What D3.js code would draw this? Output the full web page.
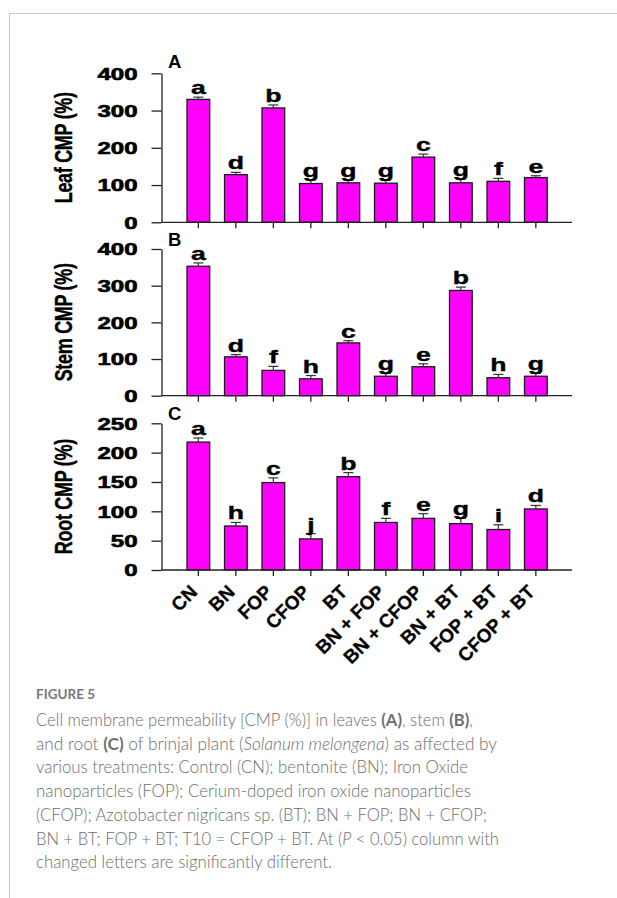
<!DOCTYPE html>
<html><head><meta charset="utf-8">
<script src="https://cdn.jsdelivr.net/npm/d3@7"></script>
<style>
html,body{margin:0;padding:0;background:#fff;}
svg{display:block;}
</style></head>
<body>
<svg id="chart" width="617" height="898"></svg>
<script>
const categories = ["CN","BN","FOP","CFOP","BT","BN + FOP","BN + CFOP","BN + BT","FOP + BT","CFOP + BT"];
const leafValues = [330,128,307,104,106,105,175,106,110,120];
const leafErrors = [6,6,8,10,7,8,8,10,8,5];
const leafLetters = ["a","d","b","g","g","g","c","g","f","e"];
const stemValues = [353,106,69,46,144,53,79,287,49,53];
const stemErrors = [9,6,11,9,6,8,8,9,9,8];
const stemLetters = ["a","d","f","h","c","g","e","b","h","g"];
const rootValues = [218,75,149,53,159,81,88,79,69,104];
const rootErrors = [7,6,8,9,7,7,8,9,8,6];
const rootLetters = ["a","h","c","j","b","f","e","g","i","d"];
const leafTicks = [0,100,200,300,400];
const stemTicks = [0,100,200,300,400];
const rootTicks = [0,50,100,150,200,250];
const panelLabels = ["A","B","C"];
const axisTitles = ["Leaf CMP (%)","Stem CMP (%)","Root CMP (%)"];
const figureLabel = "FIGURE 5";
const captionLines = [
  [["Cell membrane permeability [CMP (%)] in leaves ",""],["(A)","b"],[", stem ",""],["(B)","b"],[",",""]],
  [["and root ",""],["(C)","b"],[" of brinjal plant (",""],["Solanum melongena","i"],[") as affected by",""]],
  [["various treatments: Control (CN); bentonite (BN); Iron Oxide",""]],
  [["nanoparticles (FOP); Cerium-doped iron oxide nanoparticles",""]],
  [["(CFOP); Azotobacter nigricans sp. (BT); BN + FOP; BN + CFOP;",""]],
  [["BN + BT; FOP + BT; T10 = CFOP + BT. At (",""],["P","i"],[" < 0.05) column with",""]],
  [["changed letters are significantly different.",""]]
];
const captionWidths = [437,461,432,435,451,463,296];

const svg = d3.select("#chart");
const FONT = "Liberation Sans, Arial, sans-serif";
// frame
svg.append("line").attr("x1",9.5).attr("x2",617).attr("y1",13.5).attr("y2",13.5).attr("stroke","#c4c4c4").attr("stroke-width",1);
svg.append("line").attr("x1",9.5).attr("x2",9.5).attr("y1",13.5).attr("y2",898).attr("stroke","#c4c4c4").attr("stroke-width",1);

const x = d3.scaleBand().domain(categories).range([179.6,554.6]).paddingInner(0.395).paddingOuter(0.1975);
const axisColor = "#222";
const panels = [
  {values:leafValues, errors:leafErrors, letters:leafLetters, ticks:leafTicks, y0:222.3, y1:73.3},
  {values:stemValues, errors:stemErrors, letters:stemLetters, ticks:stemTicks, y0:395.7, y1:249},
  {values:rootValues, errors:rootErrors, letters:rootLetters, ticks:rootTicks, y0:570, y1:423.3}
];
const axisX = 161.5;
panels.forEach((p,pi)=>{
  const y = d3.scaleLinear().domain([0,d3.max(p.ticks)]).range([p.y0,p.y1]);
  const g = svg.append("g");
  g.selectAll("rect.bar").data(p.values).join("rect")
    .attr("x",(d,i)=>x(categories[i]))
    .attr("y",d=>y(d))
    .attr("width",x.bandwidth())
    .attr("height",d=>y(0)-y(d))
    .attr("fill","#ff00ff").attr("stroke","#1a1a1a").attr("stroke-width",1.3);
  p.values.forEach((v,i)=>{
    const cx = x(categories[i])+x.bandwidth()/2;
    g.append("line").attr("x1",cx).attr("x2",cx).attr("y1",y(v)).attr("y2",y(v+p.errors[i])).attr("stroke","#333").attr("stroke-width",1.2);
    g.append("line").attr("x1",cx-5).attr("x2",cx+5).attr("y1",y(v+p.errors[i])).attr("y2",y(v+p.errors[i])).attr("stroke","#333").attr("stroke-width",1.2);
    g.append("text").attr("transform",`translate(${cx},${y(v+p.errors[i])-3}) scale(1.4,1)`)
      .attr("text-anchor","middle").attr("font-family",FONT)
      .attr("font-weight","bold").attr("font-size",19).attr("fill","#000")
      .attr("stroke","#000").attr("stroke-width",0.4).text(p.letters[i]);
  });
  const ya = g.append("g").attr("transform",`translate(${axisX},0)`)
    .call(d3.axisLeft(y).tickValues(p.ticks).tickSize(10).tickSizeOuter(0).tickPadding(0).tickFormat(d3.format("d")));
  ya.select(".domain").attr("stroke",axisColor).attr("stroke-width",1.3);
  ya.selectAll(".tick line").attr("stroke",axisColor).attr("stroke-width",1.3);
  ya.selectAll(".tick text").attr("x",null).attr("dy",null)
    .attr("transform","translate(-24,5.8) scale(1.5,1)")
    .attr("font-family",FONT).attr("font-weight","bold").attr("font-size",16).attr("fill","#000")
    .attr("stroke","#000").attr("stroke-width",0.6);
  const xa = g.append("g").attr("transform",`translate(0,${p.y0})`)
    .call(d3.axisBottom(x).tickSize(6).tickSizeOuter(0).tickFormat(""));
  xa.select(".domain").attr("d",`M${axisX},0H572`).attr("stroke",axisColor).attr("stroke-width",1.3);
  xa.selectAll(".tick line").attr("stroke",axisColor).attr("stroke-width",1.3);
  if(pi===2){
    xa.selectAll(".tick").append("text")
      .attr("transform","translate(0,23) rotate(-45)")
      .attr("text-anchor","end").attr("font-family",FONT)
      .attr("font-weight","bold").attr("font-size",19).attr("fill","#000")
      .attr("stroke","#000").attr("stroke-width",0.3)
      .text(d=>d);
  }
  svg.append("text").attr("x",168).attr("y",p.y1-5+ (pi===0? 0: 2)).attr("font-family",FONT)
    .attr("font-weight","bold").attr("font-size",18.5).attr("fill","#000").text(panelLabels[pi]);
  const cy = (p.y0+p.y1)/2;
  svg.append("text").attr("transform",`translate(72,${cy}) scale(1.3,1) rotate(-90)`)
    .attr("text-anchor","middle").attr("font-family",FONT)
    .attr("font-weight","bold").attr("font-size",18).attr("fill","#000")
    .attr("stroke","#000").attr("stroke-width",0.3)
    .attr("letter-spacing",-0.3).text(axisTitles[pi]);
});

svg.append("text").attr("x",36).attr("y",699).attr("font-family","Lato, 'Open Sans', sans-serif")
  .attr("font-weight","bold").attr("font-size",13.5).attr("fill","#777").text(figureLabel);
captionLines.forEach((segs,li)=>{
  const t = svg.append("text").attr("x",36).attr("y",726+li*23.7)
    .attr("font-family","Lato, 'Open Sans', sans-serif").attr("font-size",17).attr("font-weight",300).attr("fill","#6e6e6e")
    .attr("textLength",captionWidths[li]).attr("lengthAdjust","spacingAndGlyphs");
  segs.forEach(s=>{
    const ts = t.append("tspan").text(s[0]);
    if(s[1]==="b") ts.attr("font-weight","bold");
    if(s[1]==="i") ts.attr("font-style","italic");
  });
});
</script>
</body></html>
